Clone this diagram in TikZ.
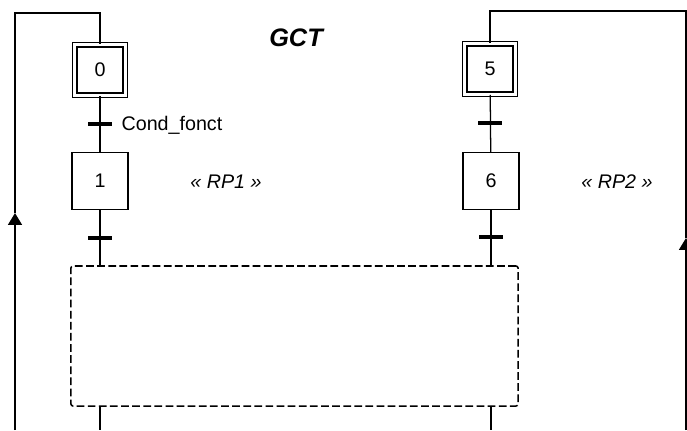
\documentclass[tikz,border=0pt]{standalone}
\usepackage{fontspec}
\setmainfont{Liberation Sans}
\usepackage{tikz}
\usetikzlibrary{positioning, arrows.meta}

\begin{document}
\begin{tikzpicture}[
			x=0.025cm, y=-0.025cm,
			etape/.style={draw, line width=0.9pt, minimum width=1.4cm, minimum height=1.425cm, inner sep=0pt, font=\fontsize{14}{16}\selectfont},
			etapeinit/.style={etape, double, double distance=2.4pt, minimum width=1.26cm, minimum height=1.26cm},
			trans/.style={fill=black, minimum width=0.6cm, minimum height=2.6pt, inner sep=0pt, outer sep=0pt},
			macro/.style={draw, dashed, dash pattern=on 5.5pt off 2.4pt, line width=1.1pt, rounded corners=1.5pt, minimum width=11.175cm, minimum height=3.5cm},
			txt/.style={font=\fontsize{14}{16}\selectfont, inner sep=0pt},
			fleche/.style={-{Triangle[length=8.5pt,width=10pt]}},
			every path/.style={line width=0.9pt},
			]
			\useasboundingbox (0,0) rectangle (687,430);
			
			%% ── Left graph (steps 0 and 1) ─────────────────────────────────────────
			\node[etapeinit] (s0) at (100,70)  {0};
			\node[etape]     (s1) at (100,181) {1};
			\node[trans] (t01) at (100,124) {};
			\node[trans] (t1)  at (100,238) {};
			
			%% ── Right graph (steps 5 and 6) ────────────────────────────────────────
			\node[etapeinit] (s5) at (490,69)  {5};
			\node[etape]     (s6) at (491,181) {6};
			\node[trans] (t56) at (490,123) {};
			\node[trans] (t6)  at (491,237) {};
			
			%% ── Macro step and texts ──────────────────────────────────────────────
			\node[font=\fontsize{18}{20}\selectfont\bfseries\itshape, inner sep=0pt] (gct) at (296,38) {GCT};
			\node[macro] (mp) at (294.5,336) {};
			\node[txt, anchor=west] (cond) at (121,125) {Cond\_fonct};
			\node[txt, font=\fontsize{14}{16}\selectfont\itshape] (rp1) at (226,182) {« RP1 »};
			\node[txt, font=\fontsize{14}{16}\selectfont\itshape] (rp2) at (617,182) {« RP2 »};
			
			\coordinate (b1) at (100,430);
			\coordinate (b6) at (491,430);
			\coordinate (l0) at (15,430);
			\coordinate (la) at (15,213);
			\coordinate (lt) at (15,13);
			\coordinate (r0) at (686,430);
			\coordinate (ra) at (686,238);
			\coordinate (rt) at (686,11);
			
			\draw (s0) -- (s1);
			\draw (s1) -- (mp.north -| s1);
			\draw (s5) -- (s6);
			\draw (s6) -- (mp.north -| s6);
			\draw (mp.south -| s1) -- (b1);
			\draw (mp.south -| s6) -- (b6);
			
			%% ── Loops back to the initial steps ────────────────────────────────────
			\draw[fleche] (l0) -- (la);
			\draw (la) -- (lt) -| (s0);
			\draw[fleche] (r0) -- (ra);
			\draw (ra) -- (rt) -| (s5);
			
		\end{tikzpicture}
\end{document}
